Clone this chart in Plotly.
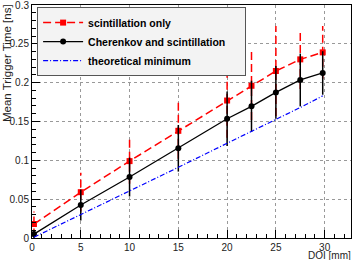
import plotly.graph_objects as go

# ---- data ----
doi = [0.2, 5, 10, 15, 20, 22.5, 25, 27.5, 29.8]
scint_only = [0.018, 0.059, 0.099, 0.138, 0.177, 0.196, 0.215, 0.230, 0.239]
scint_only_err = [0.016, 0.025, 0.029, 0.036, 0.048, 0.044, 0.058, 0.038, 0.034]
cher_scint = [0.005, 0.0425, 0.0785, 0.1155, 0.1535, 0.1695, 0.1875, 0.2035, 0.2125]
cher_scint_err = [0.005, 0.020, 0.025, 0.030, 0.035, 0.033, 0.034, 0.034, 0.028]
theo_min = [0.001, 0.030, 0.061, 0.091, 0.122, 0.137, 0.152, 0.168, 0.183]

x_ticks = [0, 5, 10, 15, 20, 25, 30]
y_ticks = [0, 0.05, 0.1, 0.15, 0.2, 0.25, 0.3]
y_tick_labels = ["0", "0.05", "0.1", "0.15", "0.2", "0.25", "0.3"]

RED = "#ff0000"
BLUE = "#0000ff"
FONT = "Liberation Sans, Arial, sans-serif"

# dashed red error bars built from the data
ex, ey = [], []
for xv, yv, ev in zip(doi, scint_only, scint_only_err):
    ex += [xv, xv, None]
    ey += [yv - ev, yv + ev, None]

fig = go.Figure()

fig.add_trace(go.Scatter(
    x=ex, y=ey, mode="lines", showlegend=False, hoverinfo="skip",
    line=dict(color=RED, width=1.5, dash="8px,4px"),
))
fig.add_trace(go.Scatter(
    x=doi, y=scint_only, mode="lines+markers", name="scintillation only",
    line=dict(color=RED, width=1.5, dash="8px,4px"),
    marker=dict(symbol="square", size=6, color=RED),
))
fig.add_trace(go.Scatter(
    x=doi, y=cher_scint, mode="lines+markers", name="Cherenkov and scintillation",
    line=dict(color="black", width=1.3),
    marker=dict(symbol="circle", size=6, color="black"),
    error_y=dict(type="data", array=cher_scint_err, visible=True,
                 color="black", thickness=1.5, width=0),
))
fig.add_trace(go.Scatter(
    x=doi, y=theo_min, mode="lines", name="theoretical minimum",
    line=dict(color=BLUE, width=1.2, dash="5px,2px,1px,2px"),
))

fig.update_layout(
    width=353, height=260,
    margin=dict(l=32, r=2, t=5, b=22, autoexpand=False),
    paper_bgcolor="white", plot_bgcolor="white",
    font=dict(family=FONT, size=10, color="#222"),
    showlegend=True,
    legend=dict(
        orientation="h",
        x=0.016, y=0.991, xanchor="left", yanchor="top",
        bgcolor="#f3f3f3", bordercolor="#555", borderwidth=1,
        font=dict(family=FONT, size=10.5, color="black", weight="bold"),
        tracegroupgap=0, itemwidth=40,
        entrywidth=152, entrywidthmode="pixels",
    ),
    annotations=[
        dict(text="Mean Trigger Time [ns]", xref="paper", yref="paper",
             x=0, y=1, xanchor="center", yanchor="top", textangle=-90,
             xshift=-25, yshift=3, showarrow=False,
             font=dict(family=FONT, size=11.5, color="#222")),
        dict(text="DOI [mm]", xref="paper", yref="paper",
             x=1, y=0, xanchor="right", yanchor="top",
             yshift=-11, xshift=1, showarrow=False, borderpad=0,
             font=dict(family=FONT, size=10, color="#222")),
    ],
)

common = dict(
    ticks="inside", ticklen=8, tickcolor="black", tickwidth=1,
    showline=True, linecolor="black", linewidth=1, mirror=True,
    showgrid=True, gridcolor="#999", griddash="dot", gridwidth=1,
    zeroline=False, tickfont=dict(family=FONT, size=10, color="#222"),
    automargin=False, ticklabeloverflow="allow",
)

fig.update_xaxes(
    range=[0, 32.7], tickvals=x_ticks, ticktext=[str(v) for v in x_ticks],
    minor=dict(dtick=1, ticks="inside", ticklen=4, tickcolor="black", showgrid=False),
    **common,
)
fig.update_yaxes(
    range=[0, 0.3], tickvals=y_ticks, ticktext=y_tick_labels,
    minor=dict(dtick=0.01, ticks="inside", ticklen=4, tickcolor="black", showgrid=False),
    **common,
)

fig.write_html(
    "out.html",
    config={"displayModeBar": False},
    post_script="document.body.style.margin='0';document.body.style.overflow='hidden';",
)
